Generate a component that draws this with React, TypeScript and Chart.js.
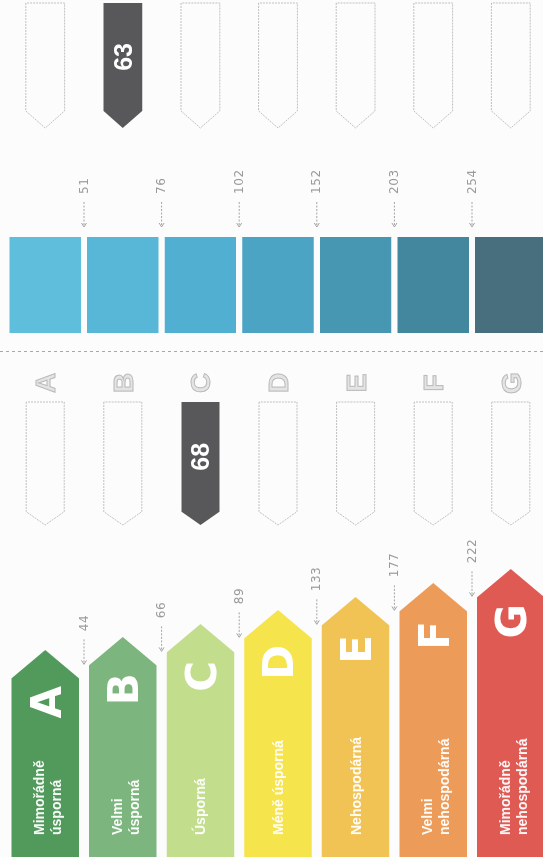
import { useEffect, useRef } from 'react';
import { Chart, registerables } from 'chart.js';

Chart.register(...registerables);

// ---------------- data ----------------
const classes = ['A', 'B', 'C', 'D', 'E', 'F', 'G'];
const classNames = [
  ['Mimořádně', 'úsporná'],
  ['Velmi', 'úsporná'],
  ['Úsporná'],
  ['Méně úsporná'],
  ['Nehospodárná'],
  ['Velmi', 'nehospodárná'],
  ['Mimořádně', 'nehospodárná'],
];
const classColors = ['#52995c', '#7db57e', '#c2dd8c', '#f6e44c', '#f1c355', '#ec9b58', '#df5a53'];
const classReach = [207, 220, 233, 247, 260, 274, 288];
const lowerThresholds = [44, 66, 89, 133, 177, 222];
const scaleThresholds = [51, 76, 102, 152, 203, 254];
const scaleColors = ['#5fbedb', '#58b7d7', '#51afd2', '#4ca4c5', '#4897b2', '#43879f', '#476f7d'];
const lowerValue = 68;
const upperValue = 63;

// ---------------- layout (not data) ----------------
const CANVAS_W = 857;
const CANVAS_H = 552;
const LOWER_POINTER = [332, 455];
const SCALE_BAND = [524, 620];
const UPPER_POINTER = [729, 854];
const DIVIDER_AT = 505;
const OUTLINE_LETTER_AT = 474;
const TEXT_START = 22;
const POINTER_DARK = '#58585a';
const OUTLINE = '#c0c0c0';
const BG = '#fcfcfc';
const ARROW_DEPTH = 0.42;
const POINTER_DEPTH: Record<number, number> = { 1: 0.35, 3: 0.44 };

function classOf(value: number, thresholds: number[]) {
  for (let i = 0; i < thresholds.length; i++) if (value <= thresholds[i]) return i;
  return thresholds.length;
}

const lowerIdx = classOf(lowerValue, lowerThresholds);
const upperIdx = classOf(upperValue, scaleThresholds);

function props(el: any) {
  const p = el.getProps(['x', 'y', 'base', 'height'], true);
  return {
    left: Math.min(p.x, p.base),
    right: Math.max(p.x, p.base),
    y: p.y,
    h: p.height,
  };
}

const energyPlugin = {
  id: 'energyLabel',
  beforeDraw(chart: any) {
    const { ctx, width, height } = chart;
    ctx.save();
    ctx.fillStyle = BG;
    ctx.fillRect(0, 0, width, height);
    ctx.restore();
  },
  beforeDatasetDraw(chart: any, args: any) {
    const idx = args.index;
    if (idx === 2) return;
    const ctx = chart.ctx;
    const ds = chart.data.datasets[idx];
    ctx.save();
    args.meta.data.forEach((el: any, i: number) => {
      const { left, right, y, h } = props(el);
      const top = y - h / 2;
      const bottom = y + h / 2;
      ctx.beginPath();
      if (idx === 0) {
        const d = h * ARROW_DEPTH;
        ctx.moveTo(left, top);
        ctx.lineTo(right - d, top);
        ctx.lineTo(right, y);
        ctx.lineTo(right - d, bottom);
        ctx.lineTo(left, bottom);
        ctx.closePath();
        ctx.fillStyle = ds.backgroundColor[i];
        ctx.fill();
      } else {
        const d = h * POINTER_DEPTH[idx];
        ctx.moveTo(right, top);
        ctx.lineTo(left + d, top);
        ctx.lineTo(left, y);
        ctx.lineTo(left + d, bottom);
        ctx.lineTo(right, bottom);
        ctx.closePath();
        const bg = ds.backgroundColor[i];
        if (bg !== 'transparent') {
          ctx.fillStyle = bg;
          ctx.fill();
        } else {
          ctx.setLineDash([2, 1]);
          ctx.strokeStyle = OUTLINE;
          ctx.lineWidth = 1;
          ctx.stroke();
          ctx.setLineDash([]);
        }
      }
    });
    ctx.restore();
    return false;
  },
  afterDatasetsDraw(chart: any) {
    const ctx = chart.ctx;
    const xs = chart.scales.x;
    const arrows = chart.getDatasetMeta(0).data.map(props);
    const lowers = chart.getDatasetMeta(1).data.map(props);
    const squares = chart.getDatasetMeta(2).data.map(props);
    const uppers = chart.getDatasetMeta(3).data.map(props);
    ctx.save();

    // divider
    const dx = Math.round(xs.getPixelForValue(DIVIDER_AT)) + 0.5;
    ctx.strokeStyle = '#a8a8a8';
    ctx.lineWidth = 1;
    ctx.setLineDash([3, 3]);
    ctx.beginPath();
    ctx.moveTo(dx, 0);
    ctx.lineTo(dx, chart.height);
    ctx.stroke();
    ctx.setLineDash([]);

    // class arrows: letters and descriptions
    const tx = xs.getPixelForValue(TEXT_START);
    arrows.forEach((a: any, i: number) => {
      const shoulder = a.right - a.h * ARROW_DEPTH;
      ctx.fillStyle = '#ffffff';
      ctx.font = 'bold 42px "DejaVu Sans"';
      ctx.textAlign = 'center';
      ctx.textBaseline = 'alphabetic';
      ctx.fillText(classes[i], shoulder - 24, a.y + 42 * 0.729 / 2);
      ctx.font = 'bold 14px "Liberation Sans"';
      ctx.textAlign = 'left';
      ctx.fillStyle = 'rgba(255,255,255,0.95)';
      const lines = classNames[i];
      if (lines.length === 1) ctx.fillText(lines[0], tx, a.y + 5);
      else {
        ctx.fillText(lines[0], tx, a.y - 1);
        ctx.fillText(lines[1], tx, a.y + 16);
      }
    });

    const drawMark = (u0: number, v: number, text: string) => {
      ctx.strokeStyle = '#a4a4a4';
      ctx.lineWidth = 1;
      ctx.setLineDash([2, 1.5]);
      ctx.beginPath();
      ctx.moveTo(u0 + 2, v);
      ctx.lineTo(u0 + 26, v);
      ctx.stroke();
      ctx.setLineDash([]);
      ctx.beginPath();
      ctx.moveTo(u0 + 4, v - 2.5);
      ctx.lineTo(u0, v);
      ctx.lineTo(u0 + 4, v + 2.5);
      ctx.stroke();
      ctx.fillStyle = '#9a9a9a';
      ctx.font = '12px "DejaVu Sans"';
      (ctx as any).letterSpacing = '0.6px';
      ctx.textAlign = 'left';
      ctx.textBaseline = 'middle';
      ctx.fillText(text, u0 + 33, v + 0.5);
      (ctx as any).letterSpacing = '0px';
      ctx.textBaseline = 'alphabetic';
    };

    lowerThresholds.forEach((t, i) => {
      const a = arrows[i];
      const b = arrows[i + 1];
      const v = (a.y + b.y) / 2;
      const u0 = b.right - b.h * ARROW_DEPTH + 1;
      drawMark(u0, v, String(t));
    });
    scaleThresholds.forEach((t, i) => {
      const a = squares[i];
      const b = squares[i + 1];
      const v = (a.y + b.y) / 2;
      drawMark(a.right + 10, v, String(t));
    });

    // outlined class letters above the lower pointers
    const lx = xs.getPixelForValue(OUTLINE_LETTER_AT);
    lowers.forEach((p: any, i: number) => {
      ctx.font = 'bold 28px "Liberation Sans"';
      ctx.textAlign = 'center';
      ctx.textBaseline = 'alphabetic';
      ctx.fillStyle = '#e4e4e4';
      ctx.strokeStyle = '#b9b9b9';
      ctx.lineWidth = 1;
      ctx.fillText(classes[i], lx, p.y + 10);
      ctx.strokeText(classes[i], lx, p.y + 10);
    });

    // values inside the filled pointers
    const valueText = (p: any, depth: number, text: string) => {
      const c = (p.left + p.h * depth + p.right) / 2;
      ctx.font = 'bold 25px "Liberation Sans"';
      ctx.textAlign = 'center';
      ctx.textBaseline = 'alphabetic';
      ctx.fillStyle = '#ffffff';
      ctx.fillText(text, c, p.y + 9);
    };
    valueText(lowers[lowerIdx], POINTER_DEPTH[1], String(lowerValue));
    valueText(uppers[upperIdx], POINTER_DEPTH[3], String(upperValue));

    ctx.restore();
  },
};

export default function App() {
  const ref = useRef<HTMLCanvasElement>(null);
  useEffect(() => {
    if (!ref.current) return;
    const common = { categoryPercentage: 1, grouped: false, borderWidth: 0 };
    const chart = new Chart(ref.current, {
      type: 'bar',
      data: {
        labels: classes,
        datasets: [
          {
            label: 'Třída',
            data: classReach.map((r) => [0, r]),
            backgroundColor: classColors,
            barPercentage: 0.87,
            ...common,
          },
          {
            label: 'Hodnota',
            data: classes.map(() => LOWER_POINTER),
            backgroundColor: classes.map((_, i) => (i === lowerIdx ? POINTER_DARK : 'transparent')),
            barPercentage: 0.49,
            ...common,
          },
          {
            label: 'Stupnice',
            data: classes.map(() => SCALE_BAND),
            backgroundColor: scaleColors,
            barPercentage: 0.92,
            ...common,
          },
          {
            label: 'Hodnota 2',
            data: classes.map(() => UPPER_POINTER),
            backgroundColor: classes.map((_, i) => (i === upperIdx ? POINTER_DARK : 'transparent')),
            barPercentage: 0.5,
            ...common,
          },
        ] as any,
      },
      options: {
        indexAxis: 'y',
        responsive: false,
        maintainAspectRatio: false,
        animation: false,
        events: [],
        layout: { padding: { top: 6.4, bottom: 2.4, left: 0, right: 0 } },
        plugins: { legend: { display: false }, tooltip: { enabled: false } },
        scales: {
          x: { type: 'linear', min: 0, max: CANVAS_W, display: false },
          y: { type: 'category', display: false, offset: true },
        },
      },
      plugins: [energyPlugin],
    } as any);
    return () => chart.destroy();
  }, []);

  return (
    <div
      style={{
        position: 'fixed',
        left: 0,
        top: 0,
        width: 543,
        height: 857,
        overflow: 'hidden',
        background: BG,
      }}
    >
      <div
        style={{
          position: 'absolute',
          left: 0,
          top: 0,
          width: CANVAS_W,
          height: CANVAS_H,
          transformOrigin: '0 0',
          transform: `translate(0px, ${CANVAS_W}px) rotate(-90deg)`,
        }}
      >
        <canvas
          ref={ref}
          width={CANVAS_W}
          height={CANVAS_H}
          style={{ display: 'block', width: CANVAS_W, height: CANVAS_H }}
        />
      </div>
    </div>
  );
}
